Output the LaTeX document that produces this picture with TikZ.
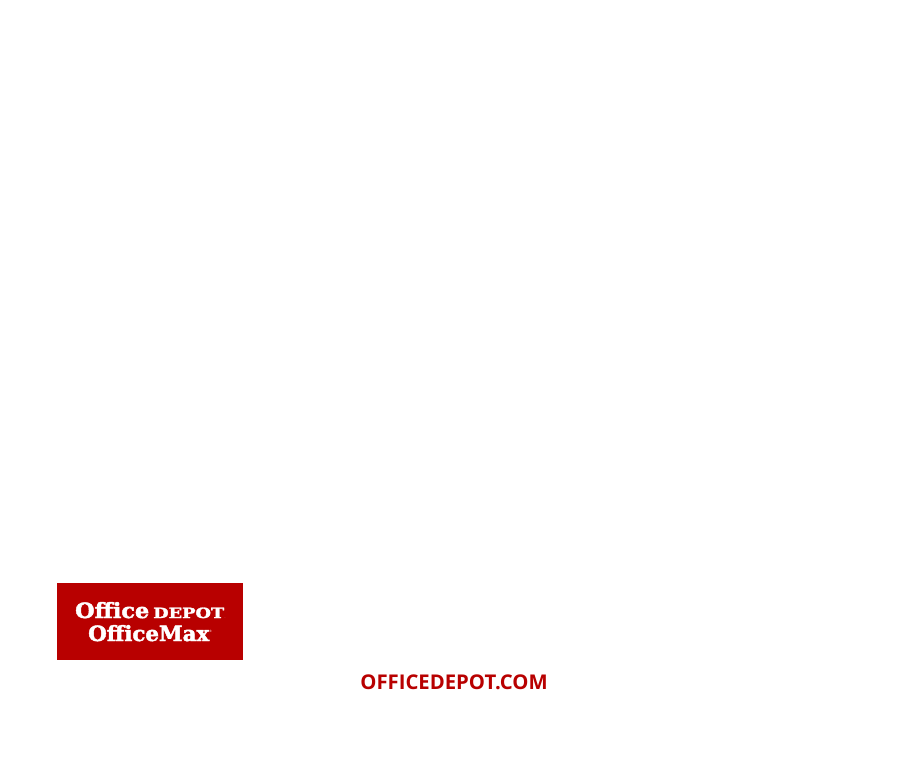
\documentclass[tikz,border=0pt]{standalone}
\usepackage{graphicx}
\usepackage{fontspec}
\setmainfont{Open Sans}
\newfontfamily\logofont{DejaVu Serif}[BoldFeatures={FakeBold=2}]
\definecolor{odred}{HTML}{B80000}
\tikzset{
  logotext/.style={text=white,font=\logofont\bfseries,inner sep=0pt,anchor=base west},
  marktext/.style={text=white,font=\logofont\fontsize{3}{3}\selectfont,inner sep=0pt,anchor=base west},
  urltext/.style={text=odred,font=\fontsize{20.3}{24}\selectfont\bfseries,inner sep=0pt}
}
\begin{document}
\begin{tikzpicture}[x=1pt,y=-1pt]
\useasboundingbox (0,0) rectangle (908,758);
\fill[white] (0,0) rectangle (908,758);
\node[fill=odred,minimum width=186pt,minimum height=77pt,inner sep=0pt,anchor=north west] (logo) at (57,583) {};
\node[logotext] (office) at (75,618) {\resizebox{74pt}{16pt}{Office}};
\node[logotext] (depot) at (153,618) {\resizebox{71pt}{10.5pt}{DEPOT}};
\node[marktext] (depotmark) at (224.5,618) {.};
\node[logotext] (max) at (88,641) {\resizebox{121pt}{16pt}{OfficeMax}};
\node[marktext] (maxmark) at (209,632) {®};
\node[urltext] (url) at (454,682) {OFFICEDEPOT.COM};
\end{tikzpicture}
\end{document}
